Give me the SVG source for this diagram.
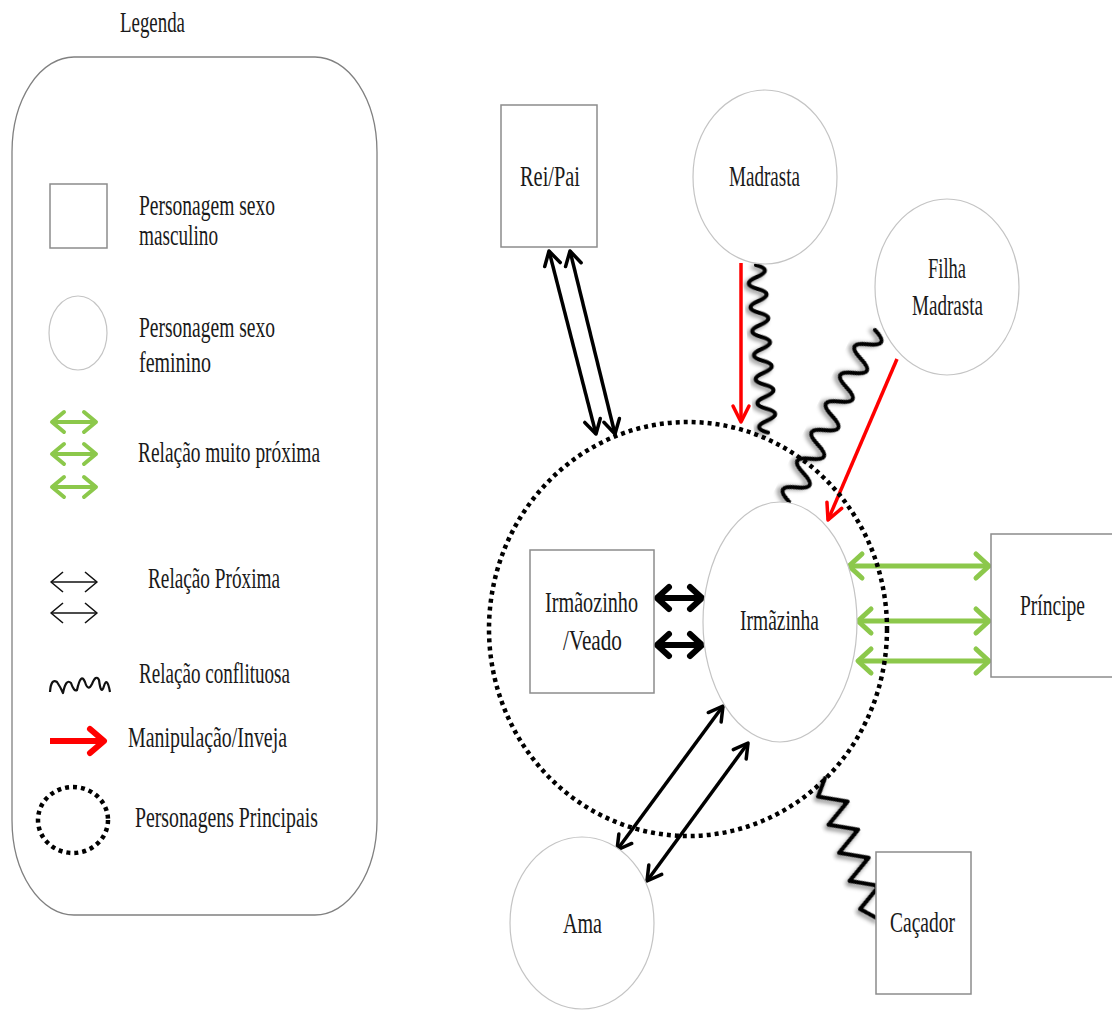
<svg xmlns="http://www.w3.org/2000/svg" width="1112" height="1010" viewBox="0 0 1112 1010">
  <style>
    .lbl { font-family: "Liberation Serif", "Times New Roman", serif; font-size: 30px; fill: #1a1a1a; }
    .box { fill: #fff; stroke: #8c8c8c; stroke-width: 1.5; }
    .fem { fill: #fff; stroke: #c4c4c4; stroke-width: 1.2; }
    .close { fill: none; stroke: #000; stroke-width: 3.5; }
    .closeThick { fill: none; stroke: #000; stroke-width: 6; }
    .veryClose { fill: none; stroke: #8cc84b; stroke-width: 5; }
    .envy { fill: none; stroke: #ff0000; stroke-width: 3.5; }
    .conflict { fill: none; stroke: #000; stroke-width: 4; stroke-linecap: round; stroke-linejoin: round; }
    .main { fill: none; stroke: #000; stroke-width: 4.5; stroke-dasharray: 4 4; }
  </style>
  <defs>
    <filter id="shadow" x="-30%" y="-30%" width="160%" height="160%">
      <feDropShadow dx="2" dy="3" stdDeviation="2" flood-color="#000" flood-opacity="0.45"/>
    </filter>
    <marker id="ah-black" markerUnits="userSpaceOnUse" markerWidth="20" markerHeight="20" orient="auto-start-reverse" overflow="visible">
      <path d="M-14,-8 L0,0 L-14,8" fill="none" stroke="#000" stroke-width="3.5" stroke-linecap="round" stroke-linejoin="round"/>
    </marker>
    <marker id="ah-black-thick" markerUnits="userSpaceOnUse" markerWidth="20" markerHeight="20" orient="auto-start-reverse" overflow="visible">
      <path d="M-12,-11 L0,0 L-12,11" fill="none" stroke="#000" stroke-width="6" stroke-linecap="round" stroke-linejoin="round"/>
    </marker>
    <marker id="ah-green" markerUnits="userSpaceOnUse" markerWidth="20" markerHeight="20" orient="auto-start-reverse" overflow="visible">
      <path d="M-13,-12 L0,0 L-13,12" fill="none" stroke="#8cc84b" stroke-width="5" stroke-linecap="round" stroke-linejoin="round"/>
    </marker>
    <marker id="ah-red" markerUnits="userSpaceOnUse" markerWidth="20" markerHeight="20" orient="auto" overflow="visible">
      <path d="M-16,-8 L0,0 L-16,8" fill="none" stroke="#ff0000" stroke-width="3.5" stroke-linecap="round" stroke-linejoin="round"/>
    </marker>
    <marker id="lg-green" markerUnits="userSpaceOnUse" markerWidth="20" markerHeight="20" orient="auto-start-reverse" overflow="visible">
      <path d="M-12,-10 L0,0 L-12,10" fill="none" stroke="#8cc84b" stroke-width="4" stroke-linecap="round" stroke-linejoin="round"/>
    </marker>
    <marker id="lg-black" markerUnits="userSpaceOnUse" markerWidth="20" markerHeight="20" orient="auto-start-reverse" overflow="visible">
      <path d="M-12,-10 L0,0 L-12,10" fill="none" stroke="#111" stroke-width="1.6" stroke-linejoin="round"/>
    </marker>
    <marker id="lg-red" markerUnits="userSpaceOnUse" markerWidth="20" markerHeight="20" orient="auto" overflow="visible">
      <path d="M-14,-12 L0,0 L-14,12" fill="none" stroke="#ff0000" stroke-width="6" stroke-linecap="round" stroke-linejoin="round"/>
    </marker>
  </defs>

  <rect width="1112" height="1010" fill="#fff"/>

  <!-- Legend panel -->
  <g id="legend">
    <text class="lbl" x="120" y="32" textLength="65" lengthAdjust="spacingAndGlyphs">Legenda</text>
    <rect x="12" y="57" width="365" height="858" rx="62" ry="95" fill="#fff" stroke="#808080" stroke-width="1.3"/>

    <rect class="box" x="50" y="184" width="57" height="64"/>
    <text class="lbl" x="139" y="215" textLength="136" lengthAdjust="spacingAndGlyphs">Personagem sexo</text>
    <text class="lbl" x="139" y="245" textLength="79" lengthAdjust="spacingAndGlyphs">masculino</text>

    <ellipse class="fem" cx="78" cy="333" rx="29" ry="37"/>
    <text class="lbl" x="139" y="337" textLength="136" lengthAdjust="spacingAndGlyphs">Personagem sexo</text>
    <text class="lbl" x="139" y="372" textLength="72" lengthAdjust="spacingAndGlyphs">feminino</text>

    <g stroke="#8cc84b" stroke-width="4">
      <line x1="52" y1="422" x2="96" y2="422" marker-start="url(#lg-green)" marker-end="url(#lg-green)"/>
      <line x1="52" y1="454" x2="96" y2="454" marker-start="url(#lg-green)" marker-end="url(#lg-green)"/>
      <line x1="52" y1="487" x2="96" y2="487" marker-start="url(#lg-green)" marker-end="url(#lg-green)"/>
    </g>
    <text class="lbl" x="138" y="462" textLength="182" lengthAdjust="spacingAndGlyphs">Relação muito próxima</text>

    <g stroke="#111" stroke-width="1.6">
      <line x1="51" y1="582" x2="97" y2="582" marker-start="url(#lg-black)" marker-end="url(#lg-black)"/>
      <line x1="51" y1="613" x2="97" y2="613" marker-start="url(#lg-black)" marker-end="url(#lg-black)"/>
    </g>
    <text class="lbl" x="148" y="588" textLength="132" lengthAdjust="spacingAndGlyphs">Relação Próxima</text>

    <path d="M50,692 Q51,678 57,682 Q61,688 63,693 Q66,678 71,683 Q74,692 77,690 Q81,672 85,682 Q88,692 92,684 Q96,674 99,680 Q101,696 104,686 Q107,676 110,692" fill="none" stroke="#111" stroke-width="2.2" stroke-linejoin="round"/>
    <text class="lbl" x="139" y="683" textLength="151" lengthAdjust="spacingAndGlyphs">Relação conflituosa</text>

    <line x1="50" y1="741" x2="104" y2="741" stroke="#ff0000" stroke-width="6" marker-end="url(#lg-red)"/>
    <text class="lbl" x="128" y="747" textLength="159" lengthAdjust="spacingAndGlyphs">Manipulação/Inveja</text>

    <ellipse cx="73" cy="820" rx="35" ry="33" fill="none" stroke="#000" stroke-width="4.5" stroke-dasharray="4 4"/>
    <text class="lbl" x="135" y="827" textLength="183" lengthAdjust="spacingAndGlyphs">Personagens Principais</text>
  </g>

  <!-- Relations -->
  <g id="connectors">
    <!-- Rei/Pai <-> principal characters -->
    <line class="close" x1="549" y1="251" x2="596" y2="434" marker-start="url(#ah-black)" marker-end="url(#ah-black)"/>
    <line class="close" x1="570" y1="251" x2="615" y2="434" marker-start="url(#ah-black)" marker-end="url(#ah-black)"/>

    <!-- Madrasta -->
    <line class="envy" x1="741" y1="263" x2="741" y2="422" marker-end="url(#ah-red)"/>
    <path class="conflict" filter="url(#shadow)" transform="translate(756,265) rotate(85.9)"
      d="M0,0 Q6,-17 12,0 T24,0 T36,0 T48,0 T60,0 T72,0 T84,0 T96,0 T108,0 T120,0 T132,0 T144,0 T156,0 T168,0"/>

    <!-- Filha Madrasta -->
    <path class="conflict" filter="url(#shadow)" transform="translate(875,330) rotate(116.6)"
      d="M0,0 Q8,-22 16,0 T32,0 T48,0 T64,0 T80,0 T96,0 T112,0 T128,0 T144,0 T160,0 T176,0 T192,0"/>
    <line class="envy" x1="897" y1="359" x2="828" y2="520" marker-end="url(#ah-red)"/>

    <!-- Irmãozinho <-> Irmãzinha -->
    <line class="closeThick" x1="657" y1="598" x2="702" y2="598" marker-start="url(#ah-black-thick)" marker-end="url(#ah-black-thick)"/>
    <line class="closeThick" x1="657" y1="645" x2="702" y2="645" marker-start="url(#ah-black-thick)" marker-end="url(#ah-black-thick)"/>

    <!-- Irmãzinha <-> Príncipe -->
    <line class="veryClose" x1="849" y1="566" x2="989" y2="566" marker-start="url(#ah-green)" marker-end="url(#ah-green)"/>
    <line class="veryClose" x1="858" y1="621" x2="989" y2="621" marker-start="url(#ah-green)" marker-end="url(#ah-green)"/>
    <line class="veryClose" x1="858" y1="661" x2="989" y2="661" marker-start="url(#ah-green)" marker-end="url(#ah-green)"/>

    <!-- Ama <-> Irmãzinha -->
    <line class="close" x1="723" y1="706" x2="617" y2="850" marker-start="url(#ah-black)" marker-end="url(#ah-black)"/>
    <line class="close" x1="748" y1="743" x2="647" y2="881" marker-start="url(#ah-black)" marker-end="url(#ah-black)"/>

    <!-- Caçador -->
    <path class="conflict" filter="url(#shadow)" transform="translate(825,778) rotate(69.5)"
      d="M0,0 L15,13 L30,-13 L45,13 L60,-13 L75,13 L90,-13 L105,13 L120,-13 L135,13 L150,0"/>
  </g>

  <!-- Principal characters boundary -->
  <g id="principais">
    <ellipse class="main" cx="688" cy="629" rx="199" ry="207"/>
  </g>

  <!-- Characters -->
  <g id="rei-pai">
    <rect class="box" x="501" y="105" width="96" height="142"/>
    <text class="lbl" x="520" y="186" textLength="60" lengthAdjust="spacingAndGlyphs">Rei/Pai</text>
  </g>
  <g id="madrasta">
    <ellipse class="fem" cx="765" cy="177" rx="72" ry="87"/>
    <text class="lbl" x="729" y="186" textLength="71" lengthAdjust="spacingAndGlyphs">Madrasta</text>
  </g>
  <g id="filha-madrasta">
    <ellipse class="fem" cx="947" cy="287" rx="72" ry="88"/>
    <text class="lbl" x="928" y="278" textLength="38" lengthAdjust="spacingAndGlyphs">Filha</text>
    <text class="lbl" x="912" y="315" textLength="71" lengthAdjust="spacingAndGlyphs">Madrasta</text>
  </g>
  <g id="irmaozinho">
    <rect class="box" x="530" y="550" width="124" height="143"/>
    <text class="lbl" x="545" y="612" textLength="93" lengthAdjust="spacingAndGlyphs">Irmãozinho</text>
    <text class="lbl" x="563" y="650" textLength="59" lengthAdjust="spacingAndGlyphs">/Veado</text>
  </g>
  <g id="irmazinha">
    <ellipse class="fem" cx="780" cy="622" rx="77" ry="120"/>
    <text class="lbl" x="740" y="630" textLength="79" lengthAdjust="spacingAndGlyphs">Irmãzinha</text>
  </g>
  <g id="principe">
    <rect class="box" x="991" y="534" width="125" height="143"/>
    <text class="lbl" x="1020" y="615" textLength="65" lengthAdjust="spacingAndGlyphs">Príncipe</text>
  </g>
  <g id="ama">
    <ellipse class="fem" cx="582" cy="923" rx="72" ry="86"/>
    <text class="lbl" x="563" y="933" textLength="39" lengthAdjust="spacingAndGlyphs">Ama</text>
  </g>
  <g id="cacador">
    <rect class="box" x="876" y="852" width="95" height="142"/>
    <text class="lbl" x="890" y="932" textLength="65" lengthAdjust="spacingAndGlyphs">Caçador</text>
  </g>
</svg>
